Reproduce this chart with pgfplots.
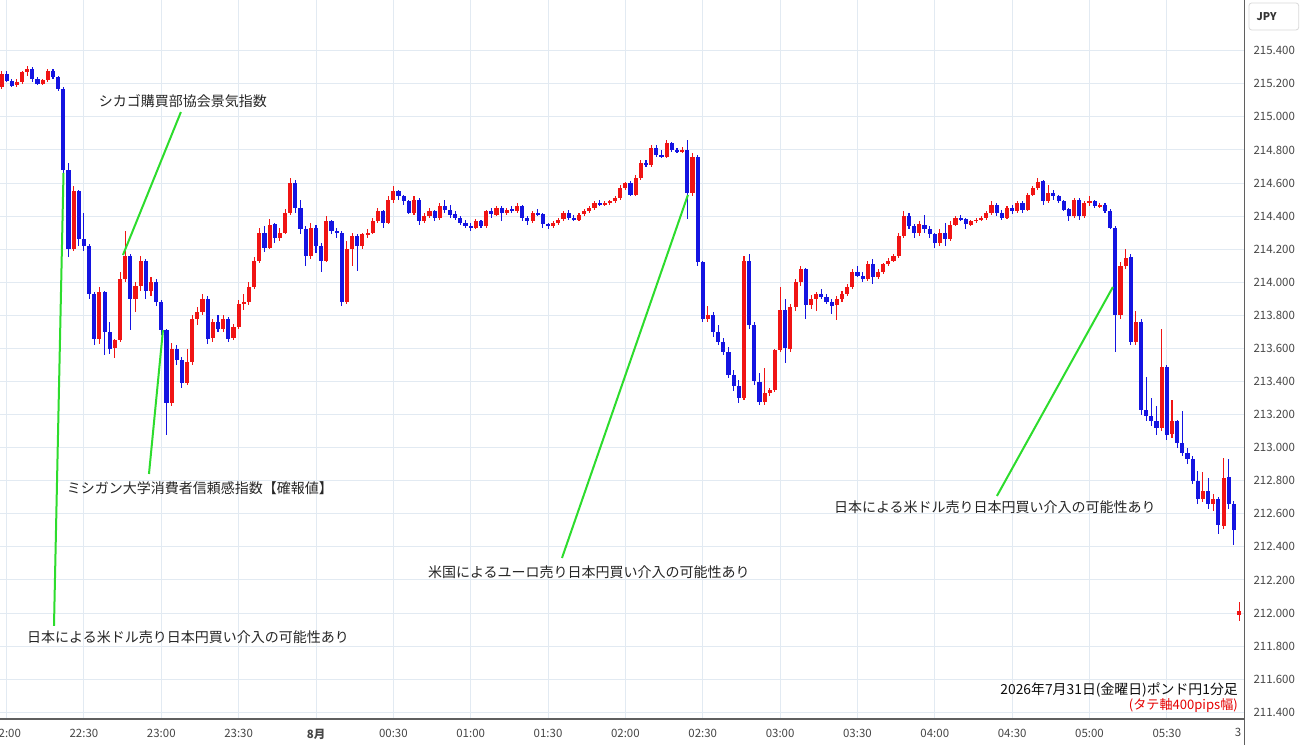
\documentclass[border=0pt]{standalone}
\usepackage{fontspec}
\setmainfont{Noto Sans CJK JP}
\usepackage{pgfplots}
\pgfplotsset{compat=1.18}
\usepackage{pgfplotstable}

\definecolor{upc}{RGB}{240,20,20}
\definecolor{dnc}{RGB}{20,20,225}
\definecolor{gridc}{RGB}{226,234,242}
\definecolor{annc}{RGB}{45,220,45}
\definecolor{tickc}{RGB}{70,70,70}
\definecolor{axc}{RGB}{95,95,95}

% GBP/JPY, 2-minute candles, t = minutes after 22:00 (31 Jul 2026)
\pgfplotstableread{
t o h l c
-2 215.18 215.28 215.17 215.26
0 215.26 215.28 215.21 215.22
2 215.22 215.23 215.18 215.19
4 215.19 215.23 215.18 215.21
6 215.21 215.28 215.20 215.27
8 215.27 215.31 215.25 215.29
10 215.29 215.30 215.21 215.23
12 215.23 215.24 215.19 215.20
14 215.20 215.23 215.19 215.22
16 215.22 215.29 215.21 215.28
18 215.28 215.29 215.23 215.24
20 215.24 215.25 215.16 215.17
22 215.17 215.18 214.64 214.68
24 214.68 214.72 214.15 214.20
26 214.20 214.58 214.19 214.55
28 214.55 214.56 214.22 214.26
30 214.26 214.42 214.19 214.22
32 214.22 214.23 213.90 213.93
34 213.93 213.94 213.62 213.66
36 213.66 213.97 213.63 213.94
38 213.94 213.95 213.56 213.70
40 213.70 213.76 213.57 213.60
42 213.60 213.66 213.54 213.65
44 213.65 214.06 213.64 214.02
46 214.02 214.31 214.00 214.16
48 214.16 214.17 213.71 213.90
50 213.90 214.00 213.82 213.98
52 213.98 214.16 213.95 214.13
54 214.13 214.14 213.90 213.95
56 213.95 214.03 213.92 214.00
58 214.00 214.02 213.86 213.88
60 213.88 213.89 213.68 213.71
62 213.71 213.72 213.08 213.27
64 213.27 213.63 213.25 213.60
66 213.60 213.62 213.50 213.53
68 213.53 213.55 213.36 213.39
70 213.39 213.60 213.38 213.52
72 213.52 213.80 213.50 213.78
74 213.78 213.85 213.74 213.82
76 213.82 213.93 213.80 213.90
78 213.90 213.92 213.63 213.66
80 213.66 213.78 213.64 213.76
82 213.76 213.80 213.70 213.72
84 213.72 213.80 213.70 213.78
86 213.78 213.79 213.64 213.66
88 213.66 213.75 213.65 213.73
90 213.73 213.89 213.72 213.87
92 213.87 213.93 213.83 213.88
94 213.88 214.00 213.86 213.97
96 213.97 214.15 213.96 214.13
98 214.13 214.33 214.12 214.30
100 214.30 214.34 214.18 214.21
102 214.21 214.38 214.20 214.35
104 214.35 214.36 214.24 214.27
106 214.27 214.33 214.25 214.30
108 214.30 214.44 214.29 214.42
110 214.42 214.63 214.41 214.60
112 214.60 214.62 214.42 214.45
114 214.45 214.50 214.29 214.32
116 214.32 214.34 214.10 214.16
118 214.16 214.36 214.14 214.33
120 214.33 214.35 214.18 214.22
122 214.22 214.24 214.06 214.13
124 214.13 214.40 214.12 214.37
126 214.37 214.38 214.29 214.31
128 214.31 214.33 214.27 214.30
130 214.30 214.31 213.86 213.88
132 213.88 214.25 213.87 214.20
134 214.20 214.30 214.10 214.28
136 214.28 214.29 214.07 214.22
138 214.22 214.30 214.20 214.29
140 214.29 214.32 214.27 214.30
142 214.30 214.39 214.29 214.37
144 214.37 214.45 214.36 214.43
146 214.43 214.44 214.33 214.36
148 214.36 214.52 214.35 214.50
150 214.50 214.58 214.48 214.55
152 214.55 214.56 214.50 214.52
154 214.52 214.53 214.47 214.49
156 214.49 214.50 214.41 214.42
158 214.42 214.52 214.41 214.50
160 214.50 214.51 214.35 214.37
162 214.37 214.42 214.36 214.40
164 214.40 214.45 214.39 214.43
166 214.43 214.44 214.37 214.39
168 214.39 214.48 214.38 214.46
170 214.46 214.50 214.42 214.44
172 214.44 214.47 214.39 214.41
174 214.41 214.43 214.38 214.39
176 214.39 214.40 214.35 214.36
178 214.36 214.38 214.33 214.34
180 214.34 214.36 214.31 214.33
182 214.33 214.38 214.32 214.37
184 214.37 214.38 214.33 214.34
186 214.34 214.44 214.33 214.43
188 214.43 214.45 214.39 214.41
190 214.41 214.46 214.40 214.45
192 214.45 214.46 214.37 214.42
194 214.42 214.45 214.41 214.44
196 214.44 214.46 214.42 214.43
198 214.43 214.48 214.42 214.46
200 214.46 214.47 214.37 214.39
202 214.39 214.40 214.35 214.37
204 214.37 214.43 214.36 214.42
206 214.42 214.44 214.40 214.41
208 214.41 214.42 214.33 214.35
210 214.35 214.36 214.32 214.34
212 214.34 214.37 214.33 214.36
214 214.36 214.39 214.35 214.38
216 214.38 214.43 214.37 214.42
218 214.42 214.44 214.38 214.39
220 214.39 214.41 214.37 214.38
222 214.38 214.42 214.37 214.41
224 214.41 214.44 214.40 214.43
226 214.43 214.46 214.42 214.45
228 214.45 214.49 214.44 214.48
230 214.48 214.50 214.46 214.47
232 214.47 214.49 214.46 214.48
234 214.48 214.50 214.47 214.49
236 214.49 214.52 214.48 214.51
238 214.51 214.59 214.50 214.57
240 214.57 214.61 214.56 214.60
242 214.60 214.61 214.52 214.53
244 214.53 214.65 214.52 214.63
246 214.63 214.74 214.62 214.72
248 214.72 214.74 214.70 214.71
250 214.71 214.83 214.70 214.81
252 214.81 214.83 214.76 214.77
254 214.77 214.80 214.75 214.76
256 214.76 214.86 214.75 214.84
258 214.84 214.85 214.79 214.80
260 214.80 214.81 214.78 214.79
262 214.79 214.82 214.78 214.80
264 214.80 214.86 214.38 214.54
266 214.54 214.78 214.52 214.76
268 214.76 214.77 214.10 214.12
270 214.12 214.13 213.76 213.78
272 213.78 213.86 213.76 213.80
274 213.80 213.82 213.67 213.70
276 213.70 213.74 213.62 213.64
278 213.64 213.66 213.56 213.58
280 213.58 213.61 213.42 213.44
282 213.44 213.47 213.34 213.37
284 213.37 213.41 213.27 213.30
286 213.30 214.16 213.29 214.13
288 214.13 214.17 213.72 213.74
290 213.74 213.76 213.38 213.40
292 213.40 213.45 213.26 213.28
294 213.28 213.48 213.26 213.33
296 213.33 213.36 213.31 213.35
298 213.35 213.60 213.34 213.59
300 213.59 213.97 213.58 213.83
302 213.83 213.90 213.51 213.60
304 213.60 213.87 213.58 213.85
306 213.85 214.02 213.83 214.00
308 214.00 214.10 213.98 214.08
310 214.08 214.09 213.78 213.86
312 213.86 213.92 213.84 213.90
314 213.90 213.94 213.83 213.93
316 213.93 213.96 213.90 213.91
318 213.91 213.93 213.87 213.88
320 213.88 213.90 213.81 213.86
322 213.86 213.92 213.77 213.90
324 213.90 213.95 213.88 213.93
326 213.93 213.99 213.92 213.97
328 213.97 214.08 213.96 214.06
330 214.06 214.10 214.03 214.04
332 214.04 214.06 214.00 214.02
334 214.02 214.13 214.01 214.11
336 214.11 214.14 213.99 214.03
338 214.03 214.08 214.02 214.06
340 214.06 214.12 214.05 214.11
342 214.11 214.15 214.10 214.13
344 214.13 214.17 214.12 214.16
346 214.16 214.30 214.15 214.28
348 214.28 214.43 214.27 214.40
350 214.40 214.42 214.32 214.34
352 214.34 214.35 214.27 214.30
354 214.30 214.37 214.28 214.35
356 214.35 214.41 214.30 214.32
358 214.32 214.34 214.27 214.29
360 214.29 214.30 214.21 214.24
362 214.24 214.32 214.22 214.30
364 214.30 214.36 214.22 214.26
366 214.26 214.37 214.25 214.35
368 214.35 214.40 214.34 214.39
370 214.39 214.41 214.37 214.38
372 214.38 214.39 214.32 214.35
374 214.35 214.38 214.34 214.37
376 214.37 214.39 214.36 214.38
378 214.38 214.40 214.37 214.39
380 214.39 214.43 214.38 214.42
382 214.42 214.49 214.41 214.47
384 214.47 214.48 214.40 214.42
386 214.42 214.44 214.38 214.39
388 214.39 214.46 214.38 214.45
390 214.45 214.47 214.41 214.43
392 214.43 214.49 214.42 214.48
394 214.48 214.49 214.42 214.44
396 214.44 214.54 214.43 214.53
398 214.53 214.58 214.52 214.57
400 214.57 214.63 214.56 214.61
402 214.61 214.62 214.47 214.49
404 214.49 214.59 214.48 214.54
406 214.54 214.56 214.50 214.52
408 214.52 214.53 214.48 214.49
410 214.49 214.50 214.43 214.44
412 214.44 214.45 214.37 214.40
414 214.40 214.51 214.39 214.50
416 214.50 214.51 214.38 214.40
418 214.40 214.49 214.39 214.48
420 214.48 214.52 214.46 214.49
422 214.49 214.50 214.45 214.46
424 214.46 214.48 214.45 214.47
426 214.47 214.48 214.42 214.43
428 214.43 214.44 214.32 214.33
430 214.33 214.34 213.58 213.80
432 213.80 214.12 213.78 214.10
434 214.10 214.20 214.08 214.15
436 214.15 214.17 213.62 213.64
438 213.64 213.83 213.62 213.76
440 213.76 213.78 213.20 213.23
442 213.23 213.43 213.16 213.19
444 213.19 213.30 213.13 213.16
446 213.16 213.25 213.08 213.12
448 213.12 213.72 213.10 213.49
450 213.49 213.50 213.05 213.08
452 213.08 213.29 213.06 213.16
454 213.16 213.17 213.00 213.03
456 213.03 213.22 212.95 212.97
458 212.97 213.00 212.90 212.93
460 212.93 212.95 212.78 212.80
462 212.80 212.86 212.66 212.69
464 212.69 212.85 212.67 212.74
466 212.74 212.82 212.63 212.66
468 212.66 212.72 212.62 212.69
470 212.69 212.70 212.48 212.53
472 212.53 212.94 212.51 212.82
474 212.82 212.93 212.63 212.66
476 212.66 212.68 212.41 212.50
478 211.99 212.07 211.95 212.01
}\gbpjpy

\begin{document}
\begin{tikzpicture}
\useasboundingbox (0,0) rectangle (975pt,558.75pt);
\fill[white] (0,0) rectangle (975pt,558.75pt);
\begin{axis}[
    at={(0pt,19.5pt)}, anchor=south west,
    width=933.15pt, height=539.25pt, scale only axis,
    xmin=-2.56, xmax=480,
    ymin=211.3595, ymax=215.7065,
    axis line style={draw=none},
    xtick={0,30,60,90,120,150,180,210,240,270,300,330,360,390,420,450},
    xticklabels={22:00,22:30,23:00,23:30,\textbf{8月},00:30,01:00,01:30,02:00,02:30,03:00,03:30,04:00,04:30,05:00,05:30},
    ytick={211.4,211.6,211.8,212.0,212.2,212.4,212.6,212.8,213.0,213.2,213.4,213.6,213.8,214.0,214.2,214.4,214.6,214.8,215.0,215.2,215.4},
    yticklabel pos=right,
    grid=major,
    grid style={draw=gridc, line width=0.75pt},
    major tick length=0pt,
    tick label style={font=\fontsize{8.6}{10}\selectfont, text=tickc},
    xticklabel style={yshift=-4.3pt},
    yticklabel style={xshift=3.5pt, /pgf/number format/.cd, fixed, fixed zerofill, precision=3, 1000 sep={}, assume math mode=true},
]
% wicks
\addplot[draw=none, forget plot,
    restrict expr to domain={\thisrow{c}-\thisrow{o}}{0:10},
    error bars/.cd, y dir=both, y explicit, error mark=none,
    error bar style={draw=upc, line width=0.8pt}]
    table[x=t, y expr={(\thisrow{h}+\thisrow{l})/2}, y error expr={(\thisrow{h}-\thisrow{l})/2}] {\gbpjpy};
\addplot[draw=none, forget plot,
    restrict expr to domain={\thisrow{c}-\thisrow{o}}{-10:-0.001},
    error bars/.cd, y dir=both, y explicit, error mark=none,
    error bar style={draw=dnc, line width=0.8pt}]
    table[x=t, y expr={(\thisrow{h}+\thisrow{l})/2}, y error expr={(\thisrow{h}-\thisrow{l})/2}] {\gbpjpy};
% bodies (kept at least about one pixel tall)
\addplot[draw=none, forget plot,
    restrict expr to domain={\thisrow{c}-\thisrow{o}}{0:10},
    error bars/.cd, y dir=both, y explicit, error mark=none,
    error bar style={draw=upc, line width=3.1pt}]
    table[x=t, y expr={(\thisrow{o}+\thisrow{c})/2}, y error expr={max(abs(\thisrow{c}-\thisrow{o})/2,0.005)}] {\gbpjpy};
\addplot[draw=none, forget plot,
    restrict expr to domain={\thisrow{c}-\thisrow{o}}{-10:-0.001},
    error bars/.cd, y dir=both, y explicit, error mark=none,
    error bar style={draw=dnc, line width=3.1pt}]
    table[x=t, y expr={(\thisrow{o}+\thisrow{c})/2}, y error expr={max(abs(\thisrow{c}-\thisrow{o})/2,0.005)}] {\gbpjpy};

% annotations
\begin{scope}[annc, line width=1.5pt]
\draw (axis cs:67.6,215.029) -- (axis cs:45.14,214.165);
\draw (axis cs:60.65,213.711) -- (axis cs:55.22,212.841);
\draw (axis cs:22.07,214.661) -- (axis cs:18.38,211.922);
\draw (axis cs:264.25,214.528) -- (axis cs:215.4,212.333);
\draw (axis cs:429.07,213.971) -- (axis cs:384.1,212.708);
\end{scope}
\begin{scope}[every node/.style={font=\fontsize{10.5}{12}\selectfont, text=black!85, inner sep=0pt}]
\node at (axis cs:68.4,215.096) {シカゴ購買部協会景気指数};
\node at (axis cs:75.0,212.756) {ミシガン大学消費者信頼感指数【確報値】};
\node at (axis cs:70.35,211.855) {日本による米ドル売り日本円買い介入の可能性あり};
\node at (axis cs:225.86,212.248) {米国によるユーロ売り日本円買い介入の可能性あり};
\node at (axis cs:383.3,212.641) {日本による米ドル売り日本円買い介入の可能性あり};
\end{scope}
\end{axis}

% frame lines
\draw[axc, line width=1.3pt] (0,19.5pt) -- (933.4pt,19.5pt);
\draw[axc, line width=1.1pt] (933.4pt,0) -- (933.4pt,558.75pt);
\node[font=\fontsize{8.6}{10}\selectfont, text=tickc] at (928.5pt,9.2pt) {3};

% JPY box
\draw[black!15, rounded corners=2pt, line width=0.6pt] (936.75pt,536.25pt) rectangle (974pt,556.5pt);
\node[font=\fontsize{8}{10}\selectfont\bfseries, text=black!80] at (950pt,546.5pt) {JPY};

% caption bottom right
\node[anchor=east, inner sep=0pt, font=\fontsize{10.4}{12}\selectfont, text=black!95] at (928.5pt,41.25pt) {2026年7月31日(金曜日)ポンド円1分足};
\node[anchor=east, inner sep=0pt, font=\fontsize{9.8}{12}\selectfont, text=red!90!black] at (928.5pt,29.25pt) {(タテ軸400pips幅)};
\end{tikzpicture}
\end{document}
